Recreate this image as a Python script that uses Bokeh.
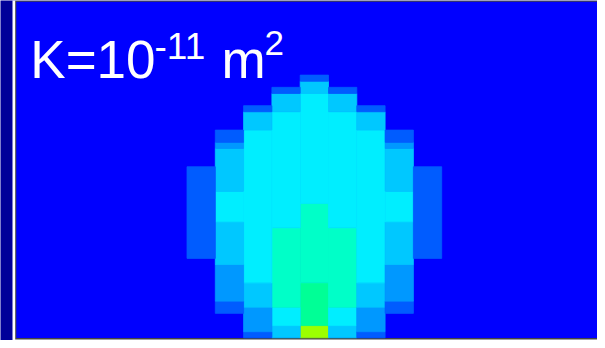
from bokeh.plotting import figure
from bokeh.models import Range1d, Label
from bokeh.embed import file_html
from bokeh.resources import INLINE

# ---- data: concentration level colours (jet-like) ----
level_colors = ["#0000ff", "#005cff", "#0098ff", "#00c8ff",
                "#00eeff", "#00ffc8", "#00ff96", "#9cff00"]

# grid of the simulation panel
n_cols = 21
n_rows = 55
center_col = 10

# plume profile for each column offset from the centre column:
# (first row from bottom, last row (exclusive), level index)
col_center = [(0, 2, 7), (2, 9, 6), (9, 22, 5), (22, 40, 4), (40, 42, 3), (42, 43, 1)]
col_off1 = [(0, 2, 3), (2, 5, 4), (5, 18, 5), (18, 37, 4), (37, 40, 3), (40, 41, 1)]
col_off2 = [(0, 1, 1), (1, 5, 2), (5, 9, 3), (9, 34, 4), (34, 37, 3), (37, 38, 1)]
col_off3 = [(4, 6, 1), (6, 12, 2), (12, 19, 3), (19, 24, 4), (24, 31, 3), (31, 32, 2), (32, 34, 1)]
col_off4 = [(13, 28, 1)]
profiles = [col_center, col_off1, col_off2, col_off3, col_off4]

label_main = "K=10"
label_exp = "-11"
label_unit = "m"
label_unit_exp = "2"

# ---- layout (pixels, in window coordinates; page margin is 8px) ----
M = 8
W, H = 605 - M, 348 - M
col_px = 28.3
row_px = 6.109
grid_left_px = 24.7
grid_bottom_px = 345.3


def X(px):
    return (px - grid_left_px) / col_px


def Y(py):
    return (grid_bottom_px - py) / row_px


p = figure(width=W, height=H, output_backend="svg", toolbar_location=None,
           x_range=Range1d(X(M), X(605)), y_range=Range1d(Y(348), Y(M)),
           min_border=0, min_border_left=0, min_border_right=0,
           min_border_top=0, min_border_bottom=0)
p.axis.visible = False
p.xgrid.visible = False
p.ygrid.visible = False
p.outline_line_color = None
p.background_fill_color = "#000099"
p.border_fill_color = "#000099"

# ---- slide chrome ----
def box(x0, x1, y0, y1, color):
    p.quad(left=X(x0), right=X(x1), top=Y(y0), bottom=Y(y1),
           fill_color=color, line_color=None)

# left neighbour panel
box(0, 2, 9.3, 346, "#0000ff")
box(2, 6.5, 8, 348, "#e6e6e6")
# main panel frame
box(20, 605, 5, 348, "#ffffff")
box(22.7, 605, 8, 347, "#444444")
box(23.8, 605, 9.3, 345.6, "#0000ff")

# ---- plume cells ----
lefts, rights, tops, bottoms, colors = [], [], [], [], []
for off, prof in enumerate(profiles):
    cols = [center_col] if off == 0 else [center_col - off, center_col + off]
    for c in cols:
        for r0, r1, lev in prof:
            lefts.append(c)
            rights.append(c + 1)
            bottoms.append(r0)
            tops.append(r1)
            colors.append(level_colors[lev])
p.quad(left=lefts, right=rights, top=tops, bottom=bottoms,
       fill_color=colors, line_color=colors, line_width=0.8)

# ---- title text ----
font = "Liberation Sans"
def lab(txt, x, py, size):
    p.add_layout(Label(x=x - M, y=348 - py, x_units="screen", y_units="screen",
                       text=txt, text_color="white", text_font=font,
                       text_font_size=size, text_baseline="alphabetic",
                       text_align="left"))

lab(label_main, 37.8, 66.7, "53px")
lab(label_exp, 162, 53.5, "37px")
lab(label_unit, 229, 66.7, "53px")
lab(label_unit_exp, 272, 50, "35px")

open("out.html", "w").write(file_html(p, INLINE))
